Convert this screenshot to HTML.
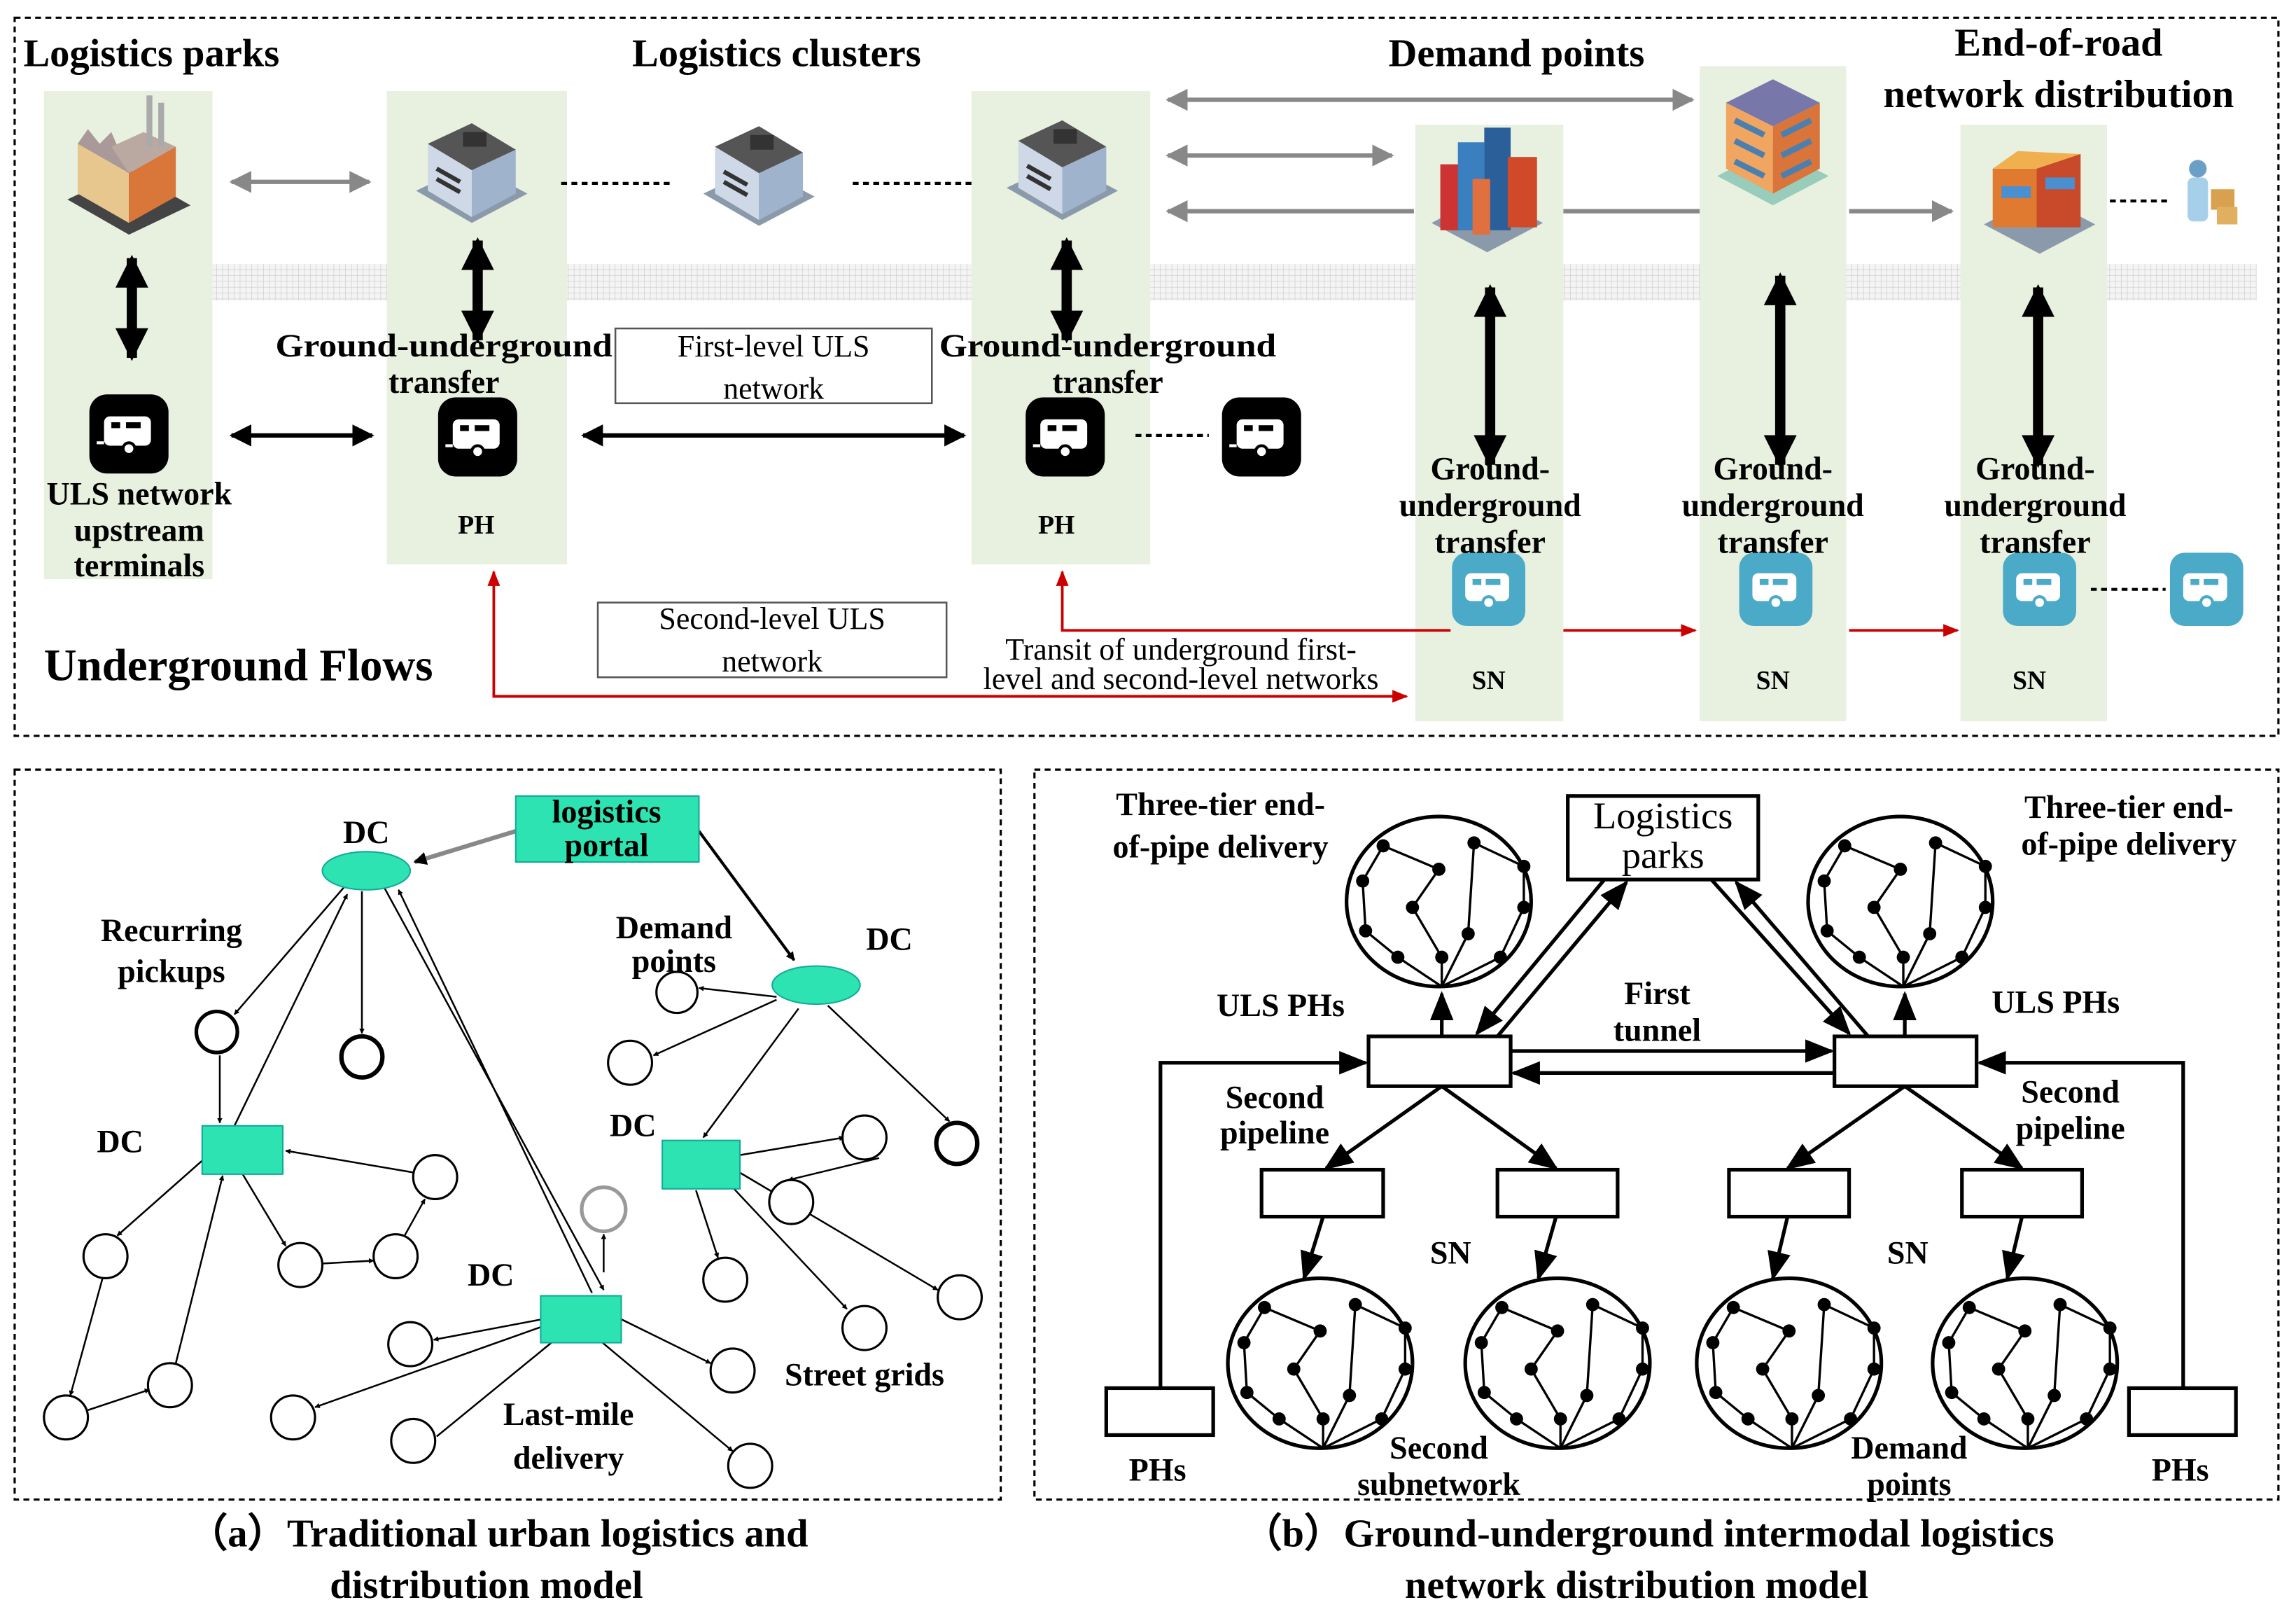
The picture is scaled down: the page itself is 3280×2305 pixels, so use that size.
<!DOCTYPE html>
<html><head><meta charset="utf-8"><style>html,body{margin:0;padding:0;background:#fff}svg{display:block}text{font-family:"Liberation Serif",serif}</style></head>
<body>
<svg width="3280" height="2305" viewBox="0 0 1567 1101" xmlns="http://www.w3.org/2000/svg">
<defs>
<marker id="ab" viewBox="0 0 10 10" refX="9" refY="5" markerWidth="5" markerHeight="5" orient="auto-start-reverse"><path d="M0,0L10,5L0,10z" fill="#000"/></marker>
<marker id="av" viewBox="0 0 10 10" refX="9" refY="5" markerWidth="3.2" markerHeight="3.2" orient="auto-start-reverse"><path d="M0,0L10,5L0,10z" fill="#000"/></marker>
<marker id="ag" viewBox="0 0 10 10" refX="9" refY="5" markerWidth="5" markerHeight="5" orient="auto-start-reverse"><path d="M0,0L10,5L0,10z" fill="#888"/></marker>
<marker id="ar" viewBox="0 0 10 10" refX="9" refY="5" markerWidth="6" markerHeight="6" orient="auto-start-reverse"><path d="M0,1L10,5L0,9z" fill="#c00"/></marker>
<marker id="at" viewBox="0 0 10 10" refX="9" refY="5" markerWidth="3" markerHeight="3" orient="auto-start-reverse"><path d="M0,0L10,5L0,10z" fill="#000"/></marker>
<marker id="as" viewBox="0 0 10 10" refX="9" refY="5" markerWidth="8" markerHeight="8" orient="auto-start-reverse"><path d="M0,1L10,5L0,9z" fill="#000"/></marker>
<pattern id="grid" width="4" height="4" patternUnits="userSpaceOnUse"><rect width="4" height="4" fill="#f4f4f4"/><path d="M4,0V4M0,4H4" stroke="#c8c8c8" stroke-width="0.6"/></pattern>
<g id="trk"><rect x="-27" y="-27" width="54" height="54" rx="12" fill="#000"/><rect x="-17" y="-12" width="32" height="20" rx="4" fill="#fff"/><rect x="-12" y="-8" width="6" height="4" fill="#000"/><rect x="-2" y="-8" width="10" height="4" fill="#000"/><circle cx="0" cy="10" r="4" fill="#fff" stroke="#000" stroke-width="2"/><path d="M-17,6H-22" stroke="#fff" stroke-width="2"/></g>
<g id="trb"><rect x="-25" y="-25" width="50" height="50" rx="10" fill="#4aaac8"/><rect x="-16" y="-11" width="30" height="19" rx="4" fill="#fff"/><rect x="-11" y="-7" width="6" height="4" fill="#4aaac8"/><rect x="-2" y="-7" width="10" height="4" fill="#4aaac8"/><circle cx="0" cy="9" r="4" fill="#fff" stroke="#4aaac8" stroke-width="2"/></g>
<g id="wh"><path d="M-38,10L0,32L38,12L0,-8z" fill="#8a9aab"/><path d="M-30,-22L-30,10L0,28L0,-4z" fill="#cfd8e6"/><path d="M0,-4L0,28L30,12L30,-18z" fill="#9fb3cc"/><path d="M-30,-22L0,-4L30,-18L0,-36z" fill="#555"/><rect x="-6" y="-30" width="16" height="10" fill="#333"/><path d="M-24,-5L-8,4M-24,2L-8,11" stroke="#333" stroke-width="3"/></g>
<g id="tree"><ellipse cx="0" cy="0" rx="63" ry="58" fill="none" stroke="#000" stroke-width="2.5"/>
<g stroke="#000" stroke-width="1.6" fill="none"><path d="M2,58L-28,38L-50,20L-52,-14L-38,-38L0,-22L-18,4L2,38L2,58L20,22L24,-40L58,-24L58,4L42,38L2,58"/></g>
<g fill="#000"><circle cx="-28" cy="38" r="4.5"/><circle cx="-50" cy="20" r="4.5"/><circle cx="-52" cy="-14" r="4.5"/><circle cx="-38" cy="-38" r="4.5"/><circle cx="0" cy="-22" r="4.5"/><circle cx="-18" cy="4" r="4.5"/><circle cx="2" cy="38" r="4.5"/><circle cx="20" cy="22" r="4.5"/><circle cx="24" cy="-40" r="4.5"/><circle cx="58" cy="-24" r="4.5"/><circle cx="58" cy="4" r="4.5"/><circle cx="42" cy="38" r="4.5"/></g></g>
</defs>
<rect width="1567" height="1101" fill="#fff"/>
<rect x="10" y="12" width="1545" height="490" fill="none" stroke="#000" stroke-width="1.5" stroke-dasharray="4,3"/>
<rect x="145" y="180" width="1395" height="25" fill="url(#grid)"/>
<g fill="#e8f0df"><rect x="30" y="62" width="115" height="333"/><rect x="264" y="62" width="123" height="323"/><rect x="663" y="62" width="122" height="323"/><rect x="966" y="85" width="101" height="407"/><rect x="1160" y="45" width="100" height="447"/><rect x="1338" y="85" width="100" height="407"/></g>
<g transform="translate(88,120)"><path d="M-42,16L0,40L42,20L0,-4z" fill="#444"/><path d="M-35,-22L-35,12L0,32L0,-2z" fill="#e8c78e"/><path d="M0,-2L0,32L32,14L32,-20z" fill="#d9773a"/><path d="M-35,-22L-28,-32L-20,-22L-12,-30L0,-2z" fill="#a99"/><path d="M0,-2L32,-20L10,-30L-12,-20z" fill="#b9a9a0"/><rect x="12" y="-55" width="4" height="35" fill="#aaa"/><rect x="20" y="-50" width="4" height="30" fill="#aaa"/></g>
<use href="#wh" x="322" y="120"/><use href="#wh" x="518" y="122"/><use href="#wh" x="725" y="118"/>
<g transform="translate(1015,132)"><path d="M-38,20L0,40L38,20L0,0z" fill="#8a9aab"/><rect x="-32" y="-20" width="22" height="45" fill="#c33"/><rect x="-20" y="-35" width="18" height="60" fill="#3a7fc0"/><rect x="-2" y="-45" width="18" height="70" fill="#2a5f9a"/><rect x="14" y="-25" width="20" height="48" fill="#d04a2a"/><rect x="-10" y="-10" width="12" height="38" fill="#e07040"/></g>
<g transform="translate(1210,100)"><path d="M-38,20L0,40L38,20L0,0z" fill="#9cb"/><path d="M-32,-30L-32,15L0,32L0,-14z" fill="#f0a560"/><path d="M0,-14L0,32L32,15L32,-30z" fill="#d9743a"/><path d="M-32,-30L0,-14L32,-30L0,-46z" fill="#77a"/><path d="M-26,-18L-6,-8M-26,-4L-6,6M-26,10L-6,20M6,-8L26,-18M6,6L26,-4M6,20L26,10" stroke="#4a7fb0" stroke-width="4"/></g>
<g transform="translate(1392,135)"><path d="M-38,18L0,38L38,18L0,-2z" fill="#8a9aab"/><rect x="-32" y="-20" width="30" height="40" fill="#e07a30"/><rect x="-2" y="-30" width="30" height="50" fill="#c84a2a"/><path d="M-32,-20L-15,-32L28,-30L-2,-20z" fill="#f0b050"/><rect x="-26" y="-8" width="20" height="8" fill="#4a8fd0"/><rect x="4" y="-14" width="20" height="8" fill="#4a8fd0"/></g>
<g transform="translate(1505,135)"><circle cx="-5" cy="-20" r="6" fill="#6aa0c8"/><rect x="-12" y="-14" width="14" height="30" rx="4" fill="#a6d0ea"/><rect x="4" y="-6" width="16" height="14" fill="#d9a050"/><rect x="8" y="6" width="14" height="12" fill="#e0b060"/></g>
<g stroke="#888" stroke-width="3"><line x1="158" y1="124" x2="252" y2="124" marker-start="url(#ag)" marker-end="url(#ag)"/><line x1="797" y1="68" x2="1155" y2="68" marker-start="url(#ag)" marker-end="url(#ag)"/><line x1="797" y1="106" x2="950" y2="106" marker-start="url(#ag)" marker-end="url(#ag)"/><line x1="965" y1="144" x2="797" y2="144" marker-end="url(#ag)"/><line x1="1067" y1="144" x2="1160" y2="144"/><line x1="1262" y1="144" x2="1332" y2="144" marker-end="url(#ag)"/></g>
<g stroke="#000" stroke-width="2" stroke-dasharray="4,3"><line x1="383" y1="125" x2="460" y2="125"/><line x1="582" y1="125" x2="664" y2="125"/><line x1="1440" y1="137" x2="1480" y2="137"/><line x1="775" y1="297" x2="825" y2="297"/><line x1="1427" y1="402" x2="1478" y2="402"/></g>
<g stroke="#000" stroke-width="7"><line x1="90" y1="176" x2="90" y2="244" marker-start="url(#av)" marker-end="url(#av)"/><line x1="326" y1="164" x2="326" y2="232" marker-start="url(#av)" marker-end="url(#av)"/><line x1="728" y1="164" x2="728" y2="232" marker-start="url(#av)" marker-end="url(#av)"/><line x1="1017" y1="196" x2="1017" y2="317" marker-start="url(#av)" marker-end="url(#av)"/><line x1="1215" y1="188" x2="1215" y2="317" marker-start="url(#av)" marker-end="url(#av)"/><line x1="1391" y1="196" x2="1391" y2="317" marker-start="url(#av)" marker-end="url(#av)"/></g>
<g stroke="#000" stroke-width="3"><line x1="158" y1="297" x2="254" y2="297" marker-start="url(#ab)" marker-end="url(#ab)"/><line x1="398" y1="297" x2="658" y2="297" marker-start="url(#ab)" marker-end="url(#ab)"/></g>
<use href="#trk" x="88" y="296"/><use href="#trk" x="326" y="298"/><use href="#trk" x="727" y="298"/><use href="#trk" x="861" y="298"/>
<use href="#trb" x="1016" y="402"/><use href="#trb" x="1212" y="402"/><use href="#trb" x="1392" y="402"/><use href="#trb" x="1506" y="402"/>
<g stroke="#c00" stroke-width="1.8" fill="none"><polyline points="960,475 337,475 337,390" marker-end="url(#ar)"/><line x1="337" y1="475" x2="960" y2="475" marker-end="url(#ar)"/><polyline points="990,430 725,430 725,390" marker-end="url(#ar)"/><line x1="1067" y1="430" x2="1157" y2="430" marker-end="url(#ar)"/><line x1="1262" y1="430" x2="1336" y2="430" marker-end="url(#ar)"/></g>
<rect x="420" y="224" width="216" height="51" fill="#fff" stroke="#555" stroke-width="1.2"/>
<rect x="408" y="411" width="238" height="51" fill="#fff" stroke="#555" stroke-width="1.2"/>
<g font-size="21" text-anchor="middle"><text x="528" y="243">First-level ULS</text><text x="528" y="272">network</text><text x="527" y="429">Second-level ULS</text><text x="527" y="458">network</text><text x="806" y="450">Transit of underground first-</text><text x="806" y="470">level and second-level networks</text></g>
<g font-weight="bold" font-size="22" text-anchor="middle">
<text x="16" y="45" text-anchor="start" font-size="27">Logistics parks</text><text x="530" y="45" font-size="27">Logistics clusters</text><text x="1035" y="45" font-size="27">Demand points</text><text x="1405" y="38" font-size="27">End-of-road</text><text x="1405" y="73" font-size="27">network distribution</text>
<text x="303" y="243" textLength="230" lengthAdjust="spacingAndGlyphs">Ground-underground</text><text x="303" y="268">transfer</text>
<text x="756" y="243" textLength="230" lengthAdjust="spacingAndGlyphs">Ground-underground</text><text x="756" y="268">transfer</text>
<text x="95" y="344">ULS network</text><text x="95" y="369">upstream</text><text x="95" y="393">terminals</text>
<text x="325" y="364" font-size="18">PH</text><text x="721" y="364" font-size="18">PH</text>
<text x="1017" y="327">Ground-</text><text x="1017" y="352">underground</text><text x="1017" y="377">transfer</text>
<text x="1210" y="327">Ground-</text><text x="1210" y="352">underground</text><text x="1210" y="377">transfer</text>
<text x="1389" y="327">Ground-</text><text x="1389" y="352">underground</text><text x="1389" y="377">transfer</text>
<text x="1016" y="470" font-size="18">SN</text><text x="1210" y="470" font-size="18">SN</text><text x="1385" y="470" font-size="18">SN</text>
<text x="30" y="464" text-anchor="start" font-size="31">Underground Flows</text></g>
<rect x="10" y="525" width="673" height="498" fill="none" stroke="#000" stroke-width="1.5" stroke-dasharray="4,3"/>
<g stroke="#000" stroke-width="1.2" fill="none" marker-end="url(#at)">
<line x1="352" y1="567" x2="283" y2="588" stroke="#888" stroke-width="3"/>
<line x1="477" y1="567" x2="542" y2="655" stroke-width="2"/>
<line x1="235" y1="605" x2="160" y2="692"/><line x1="247" y1="608" x2="247" y2="705"/><line x1="150" y1="720" x2="150" y2="766"/><line x1="160" y1="768" x2="237" y2="610"/>
<line x1="262" y1="605" x2="412" y2="880"/><line x1="404" y1="882" x2="272" y2="607"/>
<line x1="140" y1="790" x2="80" y2="843"/><line x1="165" y1="800" x2="195" y2="850"/><line x1="220" y1="862" x2="255" y2="860"/><line x1="275" y1="845" x2="290" y2="818"/><line x1="283" y1="800" x2="195" y2="785"/>
<line x1="70" y1="872" x2="48" y2="952"/><line x1="60" y1="962" x2="102" y2="948"/><line x1="120" y1="930" x2="152" y2="802"/>
<line x1="412" y1="868" x2="412" y2="842"/>
<line x1="370" y1="900" x2="296" y2="914"/><line x1="370" y1="905" x2="215" y2="960"/><line x1="298" y1="980" x2="380" y2="913"/><line x1="424" y1="900" x2="485" y2="930"/><line x1="410" y1="915" x2="500" y2="990"/>
<line x1="530" y1="680" x2="477" y2="674"/><line x1="530" y1="682" x2="446" y2="720"/>
<line x1="545" y1="688" x2="480" y2="776"/><line x1="565" y1="686" x2="648" y2="765"/>
<line x1="505" y1="788" x2="576" y2="776"/><line x1="475" y1="812" x2="490" y2="858"/><line x1="505" y1="800" x2="640" y2="880"/><line x1="500" y1="810" x2="578" y2="893"/><line x1="600" y1="790" x2="538" y2="805"/>
</g>
<g fill="#2de3b2" stroke="#1a9"><ellipse cx="250" cy="594" rx="30" ry="13"/><ellipse cx="557" cy="672" rx="30" ry="13"/><rect x="138" y="768" width="55" height="33"/><rect x="452" y="778" width="53" height="33"/><rect x="369" y="884" width="55" height="32"/><rect x="352" y="543" width="125" height="45"/></g>
<g fill="#fff" stroke="#000" stroke-width="1.5">
<circle cx="148" cy="704" r="14" stroke-width="2.5"/><circle cx="247" cy="721" r="14" stroke-width="3"/><circle cx="72" cy="857" r="15"/><circle cx="205" cy="863" r="15"/><circle cx="270" cy="857" r="15"/><circle cx="297" cy="803" r="15"/><circle cx="45" cy="967" r="15"/><circle cx="116" cy="945" r="15"/><circle cx="462" cy="677" r="14"/><circle cx="430" cy="725" r="15"/><circle cx="590" cy="776" r="15"/><circle cx="653" cy="780" r="14" stroke-width="3"/><circle cx="540" cy="820" r="15"/><circle cx="495" cy="873" r="15"/><circle cx="590" cy="906" r="15"/><circle cx="655" cy="885" r="15"/><circle cx="412" cy="825" r="15" stroke="#999" stroke-width="2.5"/><circle cx="280" cy="917" r="15"/><circle cx="200" cy="967" r="15"/><circle cx="282" cy="983" r="15"/><circle cx="500" cy="935" r="15"/><circle cx="512" cy="1000" r="15"/></g>
<g font-weight="bold" font-size="22" text-anchor="middle"><text x="414" y="561">logistics</text><text x="414" y="584">portal</text>
<text x="250" y="575">DC</text><text x="607" y="648">DC</text><text x="117" y="642">Recurring</text><text x="117" y="670">pickups</text><text x="82" y="786">DC</text><text x="460" y="640">Demand</text><text x="460" y="663">points</text><text x="432" y="775">DC</text><text x="335" y="877">DC</text><text x="590" y="945">Street grids</text><text x="388" y="972">Last-mile</text><text x="388" y="1002">delivery</text>
<text x="340" y="1055" font-size="27">（a）Traditional urban logistics and</text><text x="332" y="1090" font-size="27">distribution model</text>
<text x="1125" y="1055" font-size="27">（b）Ground-underground intermodal logistics</text><text x="1117" y="1090" font-size="27">network distribution model</text></g>
<rect x="706" y="525" width="849" height="498" fill="none" stroke="#000" stroke-width="1.5" stroke-dasharray="4,3"/>
<use href="#tree" x="982" y="615"/><use href="#tree" x="1297" y="615"/><use href="#tree" x="901" y="930"/><use href="#tree" x="1063" y="930"/><use href="#tree" x="1221" y="930"/><use href="#tree" x="1382" y="930"/>
<g stroke="#000" stroke-width="2.5" fill="none" marker-end="url(#as)">
<line x1="984" y1="707" x2="984" y2="678"/><line x1="1300" y1="707" x2="1300" y2="678"/>
<line x1="984" y1="741" x2="905" y2="797"/><line x1="984" y1="741" x2="1062" y2="797"/><line x1="1300" y1="741" x2="1220" y2="797"/><line x1="1300" y1="741" x2="1380" y2="797"/>
<line x1="903" y1="830" x2="890" y2="872"/><line x1="1062" y1="830" x2="1050" y2="872"/><line x1="1220" y1="830" x2="1210" y2="872"/><line x1="1380" y1="830" x2="1370" y2="872"/>
<polyline points="792,947 792,725 932,725"/><polyline points="1490,947 1490,725 1351,725"/>
<line x1="1031" y1="717" x2="1250" y2="717"/><line x1="1252" y1="732" x2="1033" y2="732"/>
<line x1="1095" y1="600" x2="1008" y2="705"/><line x1="1022" y1="707" x2="1110" y2="602"/>
<line x1="1168" y1="600" x2="1262" y2="705"/><line x1="1275" y1="707" x2="1185" y2="602"/>
</g>
<g fill="#fff" stroke="#000" stroke-width="2.5"><rect x="934" y="707" width="97" height="34"/><rect x="1252" y="707" width="97" height="34"/><rect x="1070" y="543" width="130" height="57"/><rect x="861" y="798" width="83" height="32"/><rect x="1022" y="798" width="82" height="32"/><rect x="1180" y="798" width="82" height="32"/><rect x="1339" y="798" width="82" height="32"/><rect x="755" y="947" width="73" height="32"/><rect x="1453" y="947" width="73" height="32"/></g>
<g font-weight="bold" font-size="22" text-anchor="middle">
<text x="833" y="556">Three-tier end-</text><text x="833" y="585">of-pipe delivery</text><text x="1453" y="558">Three-tier end-</text><text x="1453" y="583">of-pipe delivery</text>
<text x="1135" y="565" font-size="26" font-weight="normal">Logistics</text><text x="1135" y="592" font-size="26" font-weight="normal">parks</text>
<text x="874" y="693">ULS PHs</text><text x="1403" y="691">ULS PHs</text><text x="1131" y="685">First</text><text x="1131" y="710">tunnel</text>
<text x="870" y="756">Second</text><text x="870" y="780">pipeline</text><text x="1413" y="752">Second</text><text x="1413" y="777">pipeline</text>
<text x="990" y="862">SN</text><text x="1302" y="862">SN</text><text x="790" y="1010">PHs</text><text x="1488" y="1010">PHs</text>
<text x="982" y="995">Second</text><text x="982" y="1020">subnetwork</text><text x="1303" y="995">Demand</text><text x="1303" y="1020">points</text></g>
</svg>
</body></html>
